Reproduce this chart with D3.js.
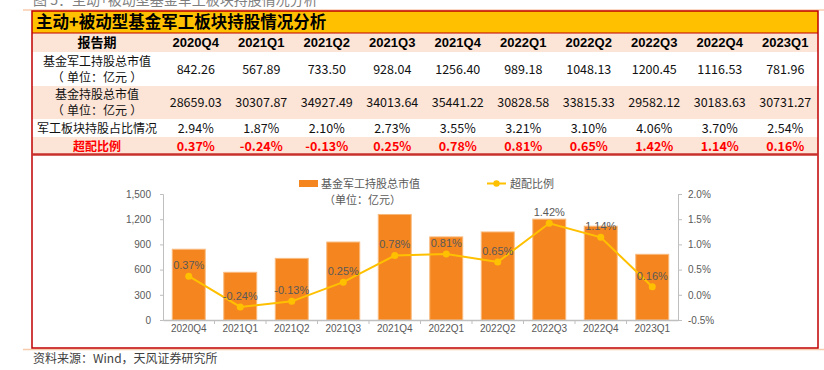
<!DOCTYPE html>
<html>
<head>
<meta charset="utf-8">
<script src="https://cdn.jsdelivr.net/npm/d3@7"></script>
<style>
  body { margin: 0; background: #fff; }
  svg { display: block; }
  .cjk { font-family: "Noto Sans CJK SC", sans-serif; }
  .lab { font-family: "Liberation Sans", "Noto Sans CJK SC", sans-serif; }
  .chart text { font-family: "Liberation Sans", "Noto Sans CJK SC", sans-serif; }
</style>
</head>
<body>
<svg id="fig" width="824" height="370"></svg>
<script>
// data
var periods = ["2020Q4","2021Q1","2021Q2","2021Q3","2021Q4","2022Q1","2022Q2","2022Q3","2022Q4","2023Q1"];
var milValue = [842.26, 567.89, 733.50, 928.04, 1256.40, 989.18, 1048.13, 1200.45, 1116.53, 781.96];
var fundValue = [28659.03, 30307.87, 34927.49, 34013.64, 35441.22, 30828.58, 33815.33, 29582.12, 30183.63, 30731.27];
var milShare = [2.94, 1.87, 2.10, 2.73, 3.55, 3.21, 3.10, 4.06, 3.70, 2.54];
var overweight = [0.37, -0.24, -0.13, 0.25, 0.78, 0.81, 0.65, 1.42, 1.14, 0.16];
var leftTicks = [0, 300, 600, 900, 1200, 1500];
var rightTicks = [-0.5, 0, 0.5, 1.0, 1.5, 2.0];

var svg = d3.select('#fig')

// outer frame lines
svg.append('line').attr('x1', 23).attr('x2', 824).attr('y1', 10).attr('y2', 10)
    .attr('stroke', '#F8CBAD').attr('stroke-width', 1.5)
svg.append('line').attr('x1', 23).attr('x2', 824).attr('y1', 349.5).attr('y2', 349.5)
    .attr('stroke', '#F8CBAD').attr('stroke-width', 1.5)

// figure caption, cut at the top
svg.append('text').attr('class', 'cjk')
    .attr('x', 33).attr('y', 5)
    .attr('font-size', 14).attr('fill', '#7f7f7f')
    .text('图 5：主动+被动型基金军工板块持股情况分析')

// table rows
var rows = [
    {y: 11, h: 22, fill: '#FFC000'},
    {y: 33, h: 19, fill: '#FCE4D6'},
    {y: 52, h: 34, fill: '#ffffff'},
    {y: 86, h: 33, fill: '#FCE4D6'},
    {y: 119, h: 18, fill: '#ffffff'},
    {y: 137, h: 17, fill: '#FCE4D6'}
]
svg.selectAll('rect.row').data(rows).enter().append('rect')
    .attr('class', 'row')
    .attr('x', 32).attr('width', 786)
    .attr('y', d => d.y).attr('height', d => d.h)
    .attr('fill', d => d.fill)

// red box
svg.append('rect').attr('x', 32).attr('y', 11).attr('width', 786).attr('height', 337)
    .attr('fill', 'none').attr('stroke', '#C00000').attr('stroke-width', 1.5)
svg.append('line').attr('x1', 32).attr('x2', 818).attr('y1', 33).attr('y2', 33)
    .attr('stroke', '#C00000').attr('stroke-width', 1.2)
svg.append('line').attr('x1', 32).attr('x2', 818).attr('y1', 154.5).attr('y2', 154.5)
    .attr('stroke', '#C9302C').attr('stroke-width', 2.5)

svg.append('text').attr('class', 'cjk')
    .attr('x', 36).attr('y', 28)
    .attr('font-size', 16.5).attr('font-weight', 700).attr('fill', '#000')
    .text('主动+被动型基金军工板块持股情况分析')

// table columns
var colX = d3.scaleBand().domain(periods).range([163, 818])
var labelX = 97

function rowLabel(lines, y, opts) {
    lines.forEach((l, i) => {
        svg.append('text').attr('class', 'lab')
            .attr('x', labelX).attr('y', y + i * 16)
            .attr('text-anchor', 'middle')
            .attr('font-size', opts.size || 12)
            .attr('fill', opts.color || '#000')
            .attr('font-weight', opts.bold ? 700 : 400)
            .text(l)
    })
}

function rowValues(values, y, fmt, opts) {
    svg.append('g').selectAll('text').data(values).enter().append('text')
        .attr('class', opts.cls || 'cjk')
        .attr('x', (d, i) => colX(periods[i]) + colX.bandwidth() / 2)
        .attr('y', y)
        .attr('text-anchor', 'middle')
        .attr('font-size', opts.size || 12.5)
        .attr('font-weight', opts.bold ? 700 : 400)
        .attr('fill', opts.color || '#000')
        .text(fmt)
}

rowLabel(['报告期'], 47, {bold: true, size: 13})
rowValues(periods, 47, d => d, {bold: true, size: 13, cls: 'lab'})
rowLabel(['基金军工持股总市值', '（ 单位：亿元 ）'], 66, {color: '#111'})
rowValues(milValue, 74, d => d.toFixed(2), {color: '#111'})
rowLabel(['基金持股总市值', '（ 单位：亿元 ）'], 99, {color: '#111'})
rowValues(fundValue, 107, d => d.toFixed(2), {color: '#111'})
rowLabel(['军工板块持股占比情况'], 133, {color: '#111'})
rowValues(milShare, 133, d => d.toFixed(2) + '%', {color: '#111'})
rowLabel(['超配比例'], 151, {color: '#FF0000', bold: true})
rowValues(overweight, 151, d => d.toFixed(2) + '%', {color: '#FF0000', bold: true})

// ---- chart ----
var chart = svg.append('g').attr('class', 'chart')
var x = d3.scaleBand().domain(periods).range([163, 678]).paddingInner(0.36).paddingOuter(0.18)
var xb = d3.scaleBand().domain(periods).range([163, 678])
var yL = d3.scaleLinear().domain([0, 1500]).range([320, 194])
var yR = d3.scaleLinear().domain([-0.5, 2.0]).range([320, 194])

var gray = '#BFBFBF'
var txt = '#595959'

// left axis
var axL = chart.append('g').attr('transform', 'translate(163,0)')
    .call(d3.axisLeft(yL).tickValues(leftTicks).tickSize(3).tickFormat(d3.format(',')))
axL.select('.domain').attr('stroke', gray)
axL.selectAll('line').attr('stroke', gray)
axL.selectAll('text').attr('fill', txt).attr('font-size', 10).attr('dx', -6)

// right axis
var axR = chart.append('g').attr('transform', 'translate(678,0)')
    .call(d3.axisRight(yR).tickValues(rightTicks).tickSize(4).tickFormat(d => d.toFixed(1) + '%'))
axR.select('.domain').attr('stroke', gray)
axR.selectAll('line').attr('stroke', gray)
axR.selectAll('text').attr('fill', txt).attr('font-size', 10).attr('dx', 3)

// bars
chart.append('g').selectAll('rect').data(milValue).enter().append('rect')
    .attr('x', (d, i) => x(periods[i]))
    .attr('width', x.bandwidth())
    .attr('y', d => yL(d))
    .attr('height', d => yL(0) - yL(d))
    .attr('fill', '#F5861F')
    .attr('stroke', '#F9B97C').attr('stroke-width', 1)

// x axis
var axX = chart.append('g').attr('transform', 'translate(0,320)')
    .call(d3.axisBottom(xb).tickSize(0).tickSizeOuter(0))
axX.select('.domain').attr('stroke', gray).attr('stroke-width', 1.5)
axX.selectAll('text').attr('fill', txt).attr('font-size', 10).attr('dy', '0.9em')
chart.append('g').selectAll('line').data(periods.slice(1)).enter().append('line')
    .attr('x1', d => xb(d)).attr('x2', d => xb(d))
    .attr('y1', 320).attr('y2', 324)
    .attr('stroke', gray)

// overweight line
var cx = (d, i) => xb(periods[i]) + xb.bandwidth() / 2
var line = d3.line().x(cx).y(d => yR(d))
chart.append('path').datum(overweight)
    .attr('d', line)
    .attr('fill', 'none').attr('stroke', '#FFC000').attr('stroke-width', 2)
chart.append('g').selectAll('circle').data(overweight).enter().append('circle')
    .attr('cx', cx).attr('cy', d => yR(d)).attr('r', 3.5)
    .attr('fill', '#FFC000')
chart.append('g').selectAll('text').data(overweight).enter().append('text')
    .attr('x', cx).attr('y', d => yR(d) - 7)
    .attr('text-anchor', 'middle')
    .attr('font-size', 11).attr('fill', txt)
    .text(d => d.toFixed(2) + '%')

// legend
var lg = chart.append('g')
lg.append('rect').attr('x', 299).attr('y', 180).attr('width', 19).attr('height', 7).attr('fill', '#F5861F')
lg.append('text').attr('x', 321).attr('y', 188).attr('font-size', 11).attr('fill', txt).text('基金军工持股总市值')
lg.append('text').attr('x', 324).attr('y', 204).attr('font-size', 11).attr('fill', txt).text('（单位：亿元）')
lg.append('line').attr('x1', 487).attr('x2', 506).attr('y1', 183.5).attr('y2', 183.5)
    .attr('stroke', '#FFC000').attr('stroke-width', 2)
lg.append('circle').attr('cx', 496.5).attr('cy', 183.5).attr('r', 3.2).attr('fill', '#FFC000')
lg.append('text').attr('x', 510).attr('y', 188).attr('font-size', 11).attr('fill', txt).text('超配比例')

// source
svg.append('text').attr('class', 'cjk')
    .attr('x', 33).attr('y', 363)
    .attr('font-size', 12).attr('fill', '#404040')
    .text('资料来源：Wind，天风证券研究所')
</script>
</body>
</html>
